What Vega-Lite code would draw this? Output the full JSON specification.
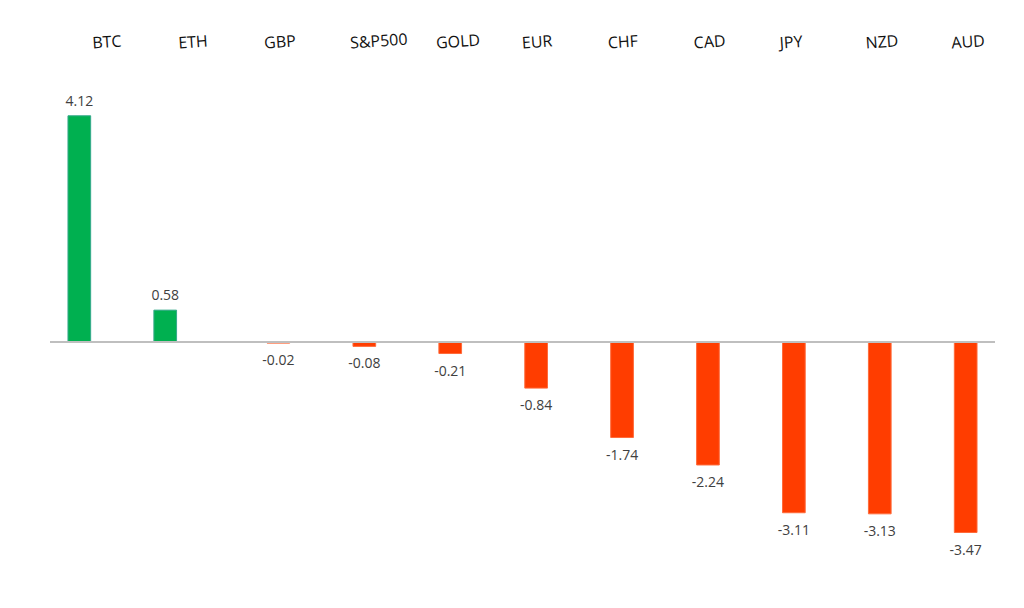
{
  "$schema": "https://vega.github.io/schema/vega-lite/v6.json",
  "width": 945,
  "height": 500,
  "autosize": "none",
  "padding": {"left": 50, "top": 80, "right": 29, "bottom": 28},
  "background": "white",
  "config": {
    "view": {"stroke": null},
    "locale": {"number": {"decimal": ".", "thousands": ",", "grouping": [3], "currency": ["$", ""], "minus": "-"}}
  },
  "data": {
    "values": [
      {"asset": "BTC", "value": 4.12, "sign": "pos"},
      {"asset": "ETH", "value": 0.58, "sign": "pos"},
      {"asset": "GBP", "value": -0.02, "sign": "neg"},
      {"asset": "S&P500", "value": -0.08, "sign": "neg"},
      {"asset": "GOLD", "value": -0.21, "sign": "neg"},
      {"asset": "EUR", "value": -0.84, "sign": "neg"},
      {"asset": "CHF", "value": -1.74, "sign": "neg"},
      {"asset": "CAD", "value": -2.24, "sign": "neg"},
      {"asset": "JPY", "value": -3.11, "sign": "neg"},
      {"asset": "NZD", "value": -3.13, "sign": "neg"},
      {"asset": "AUD", "value": -3.47, "sign": "neg"}
    ]
  },
  "encoding": {
    "x": {
      "field": "asset",
      "type": "nominal",
      "sort": null,
      "scale": {"paddingInner": 0, "paddingOuter": 0},
      "axis": {
        "orient": "top",
        "title": null,
        "domain": false,
        "ticks": false,
        "grid": false,
        "labelAngle": -4,
        "labelFont": "Open Sans",
        "labelFontSize": 16,
        "labelColor": "#111111",
        "labelPadding": 29
      }
    },
    "xOffset": {
      "field": "sign",
      "type": "nominal",
      "scale": {"domain": ["pos", "neg"], "paddingInner": 0.168, "paddingOuter": 0.659}
    },
    "y": {
      "field": "value",
      "type": "quantitative",
      "scale": {"domain": [-4.335, 4.772], "nice": false, "zero": false},
      "axis": null
    }
  },
  "layer": [
    {
      "mark": {"type": "bar", "strokeWidth": 1},
      "encoding": {
        "y2": {"datum": 0},
        "color": {
          "field": "sign",
          "type": "nominal",
          "scale": {"domain": ["pos", "neg"], "range": ["#00b050", "#ff3d00"]},
          "legend": null
        },
        "stroke": {
          "field": "sign",
          "type": "nominal",
          "scale": {"domain": ["pos", "neg"], "range": ["#35a98a", "#ff6a3a"]},
          "legend": null
        }
      }
    },
    {
      "mark": {"type": "rule", "color": "#bfbfbf", "strokeWidth": 2},
      "encoding": {"x": null, "xOffset": null, "y": {"datum": 0}}
    },
    {
      "transform": [{"filter": "datum.value >= 0"}],
      "mark": {"type": "text", "baseline": "bottom", "dy": -7, "font": "Open Sans", "fontSize": 14, "color": "#404040"},
      "encoding": {"text": {"field": "value", "type": "quantitative", "format": ".2f"}}
    },
    {
      "transform": [{"filter": "datum.value < 0"}],
      "mark": {"type": "text", "baseline": "top", "dy": 11, "font": "Open Sans", "fontSize": 14, "color": "#404040"},
      "encoding": {"text": {"field": "value", "type": "quantitative", "format": ".2f"}}
    }
  ]
}
